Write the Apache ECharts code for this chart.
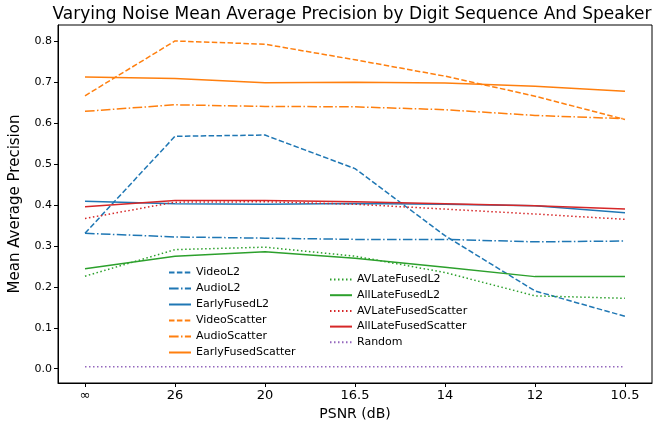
<!DOCTYPE html>
<html>
<head>
<meta charset="utf-8">
<script src="https://cdn.jsdelivr.net/npm/echarts@6/dist/echarts.min.js"></script>
<style>html,body{margin:0;padding:0;background:#fff}#c{width:657px;height:428px}</style>
</head>
<body>
<div id="c"></div>
<script>
var xLabels = ['∞', '26', '20', '16.5', '14', '12', '10.5'];
var yTicks = [0, 0.1, 0.2, 0.3, 0.4, 0.5, 0.6, 0.7, 0.8];

var videoL2            = [0.331, 0.568, 0.571, 0.489, 0.325, 0.190, 0.128];
var audioL2            = [0.331, 0.322, 0.319, 0.316, 0.316, 0.310, 0.312];
var earlyFusedL2       = [0.409, 0.403, 0.402, 0.404, 0.402, 0.398, 0.381];
var videoScatter       = [0.667, 0.801, 0.793, 0.755, 0.715, 0.666, 0.609];
var audioScatter       = [0.629, 0.645, 0.641, 0.640, 0.633, 0.619, 0.611];
var earlyFusedScatter  = [0.713, 0.709, 0.699, 0.700, 0.698, 0.690, 0.678];
var avLateFusedL2      = [0.226, 0.291, 0.297, 0.275, 0.235, 0.178, 0.172];
var allLateFusedL2     = [0.244, 0.275, 0.286, 0.270, 0.248, 0.225, 0.225];
var avLateFusedScatter = [0.367, 0.407, 0.408, 0.402, 0.390, 0.378, 0.365];
var allLateFusedScatter= [0.396, 0.411, 0.411, 0.408, 0.403, 0.398, 0.390];
var randomBaseline     = [0.005, 0.005, 0.005, 0.005, 0.005, 0.005, 0.005];

var BLUE = '#1f77b4', ORANGE = '#ff7f0e', GREEN = '#2ca02c', RED = '#d62728', PURPLE = '#9467bd';
var DASH = [5.5, 2.4], DASHDOT = [9.6, 2.4, 1.5, 2.4], DOT = [1.5, 2.5];

function pts(arr) { return arr.map(function (v, i) { return [i, v]; }); }
function mk(name, arr, color, type) {
  return {
    name: name, type: 'line', data: pts(arr), symbol: 'none', showSymbol: false,
    animation: false,
    lineStyle: { color: color, width: 1.5, type: type },
    itemStyle: { color: color }
  };
}

var series = [
  mk('VideoL2', videoL2, BLUE, DASH),
  mk('AudioL2', audioL2, BLUE, DASHDOT),
  mk('EarlyFusedL2', earlyFusedL2, BLUE, 'solid'),
  mk('VideoScatter', videoScatter, ORANGE, DASH),
  mk('AudioScatter', audioScatter, ORANGE, DASHDOT),
  mk('EarlyFusedScatter', earlyFusedScatter, ORANGE, 'solid'),
  mk('AVLateFusedL2', avLateFusedL2, GREEN, DOT),
  mk('AllLateFusedL2', allLateFusedL2, GREEN, 'solid'),
  mk('AVLateFusedScatter', avLateFusedScatter, RED, DOT),
  mk('AllLateFusedScatter', allLateFusedScatter, RED, 'solid'),
  mk('Random', randomBaseline, PURPLE, DOT)
];

var FONT = 'DejaVu Sans';
var legendCommon = {
  orient: 'vertical', itemWidth: 22, itemHeight: 10, itemGap: 5,
  textStyle: { fontFamily: FONT, fontSize: 11, color: '#000' },
  itemStyle: { opacity: 0 },
  selectedMode: false
};

var chart = echarts.init(document.getElementById('c'), null, { renderer: 'canvas' });
chart.setOption({
  animation: false,
  backgroundColor: '#fff',
  title: {
    text: 'Varying Noise Mean Average Precision by Digit Sequence And Speaker',
    left: 347, top: 1, textAlign: 'center',
    textStyle: { fontFamily: FONT, fontSize: 17, fontWeight: 'normal', color: '#000' }
  },
  legend: [
    Object.assign({}, legendCommon, { left: 163, top: 262, data: ['VideoL2', 'AudioL2', 'EarlyFusedL2', 'VideoScatter', 'AudioScatter', 'EarlyFusedScatter'] }),
    Object.assign({}, legendCommon, { left: 324, top: 269, itemGap: 4.7, data: ['AVLateFusedL2', 'AllLateFusedL2', 'AVLateFusedScatter', 'AllLateFusedScatter', 'Random'] })
  ],
  grid: { left: 50, right: 5, top: 25, bottom: 45, show: true, borderColor: '#000', borderWidth: 1, containLabel: false },
  xAxis: {
    type: 'value', min: -0.3, max: 6.3,
    name: 'PSNR (dB)', nameLocation: 'middle', nameGap: 24,
    nameTextStyle: { fontFamily: FONT, fontSize: 14, color: '#000' },
    axisLine: { show: true, onZero: false, lineStyle: { color: '#000', width: 1 } },
    axisTick: { show: true, customValues: [0, 1, 2, 3, 4, 5, 6], length: 4, lineStyle: { color: '#000' } },
    axisLabel: {
      customValues: [0, 1, 2, 3, 4, 5, 6], margin: 6,
      fontFamily: FONT, fontSize: 13, color: '#000',
      formatter: function (v) { return xLabels[Math.round(v)]; }
    },
    splitLine: { show: false }
  },
  yAxis: {
    type: 'value', min: -0.035, max: 0.84,
    name: 'Mean Average Precision', nameLocation: 'middle', nameGap: 35,
    nameTextStyle: { fontFamily: FONT, fontSize: 15, color: '#000' },
    axisLine: { show: true, onZero: false, lineStyle: { color: '#000', width: 1 } },
    axisTick: { show: true, customValues: yTicks, length: 4, lineStyle: { color: '#000' } },
    axisLabel: {
      customValues: yTicks, margin: 6,
      fontFamily: FONT, fontSize: 11, color: '#000',
      formatter: function (v) { return v.toFixed(1); }
    },
    splitLine: { show: false }
  },
  series: series
});
</script>
</body>
</html>
